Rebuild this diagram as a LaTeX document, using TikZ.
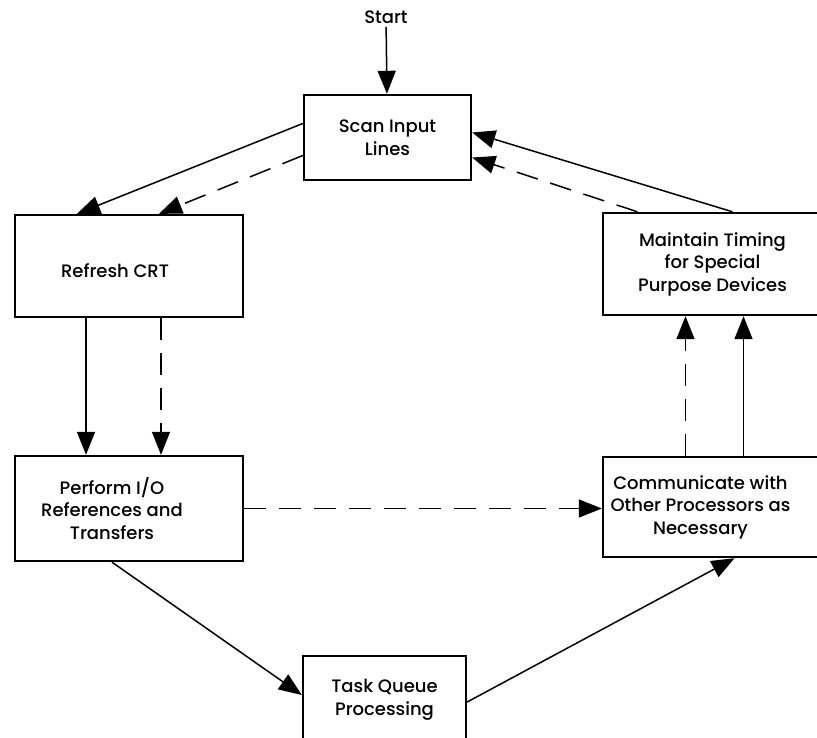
\documentclass[tikz,border=0pt]{standalone}
\usepackage{fontspec}
\setmainfont{Poppins}[UprightFont=* Medium]
\usetikzlibrary{arrows.meta}

\begin{document}
\begin{tikzpicture}
  [x=1pt, y=-1pt, >={Triangle[length=23pt,width=18pt]},
   every node/.style={font=\fontsize{18}{22.5}\selectfont, align=center},
   stepbox/.style={rectangle, draw, line width=2.4pt, inner sep=0pt},
   flow/.style={->, line width=1.5pt},
   dashline/.style={flow, dash pattern=on 22pt off 13pt}]
  \useasboundingbox (0,0) rectangle (817,738);

  \node (start) at (386,17) {Start};
  \node (scan) [stepbox, minimum width=167pt, minimum height=85pt] at (387.5,137.5) {Scan Input\\Lines};
  \node (refresh) [stepbox, minimum width=228pt, minimum height=102pt,
    label={[xshift=-14pt, yshift=-5pt]center:Refresh CRT}] at (129,266) {};
  \node (perform) [stepbox, minimum width=228pt, minimum height=105pt,
    label={[xshift=-17pt]center:{Perform I/O\\References and\\Transfers}}] at (129,508.5) {};
  \node (task) [stepbox, minimum width=163pt, minimum height=88pt] at (384.5,700) {Task Queue\\Processing};
  \node (comm) [stepbox, minimum width=219pt, minimum height=100pt,
    label={[xshift=-12pt]center:{Communicate with\\Other Processors as\\Necessary}}] at (712.5,507) {};
  \node (maintain) [stepbox, minimum width=219pt, minimum height=102pt] at (712.5,264) {Maintain Timing\\for Special\\Purpose Devices};

  \draw [flow] (start) -- (scan);
  \draw [flow] ([yshift=14pt]scan.west) -- ([xshift=-52pt]refresh.north);
  \draw [dashline] ([yshift=-18pt]scan.west) -- ([xshift=30pt]refresh.north);
  \draw [flow] ([xshift=-43pt]refresh.south) -- ([xshift=-43pt]perform.north);
  \draw [dashline] ([xshift=32pt]refresh.south) -- ([xshift=32pt]perform.north);
  \draw [dashline] (perform.east) -- (perform.east -| comm.west);
  \draw [flow] ([xshift=-17pt]perform.south) -- ([yshift=5pt]task.west);
  \draw [flow] ([yshift=-2pt]task.east) -- ([xshift=22pt]comm.south);
  \draw [dashline] ([xshift=-27pt]comm.north) -- ([xshift=-27pt]maintain.south);
  \draw [flow] ([xshift=31pt]comm.north) -- ([xshift=31pt]maintain.south);
  \draw [flow] ([xshift=20pt]maintain.north) -- ([yshift=5pt]scan.east);
  \draw [dashline] ([xshift=-75pt]maintain.north) -- ([yshift=-20pt]scan.east);
\end{tikzpicture}
\end{document}
